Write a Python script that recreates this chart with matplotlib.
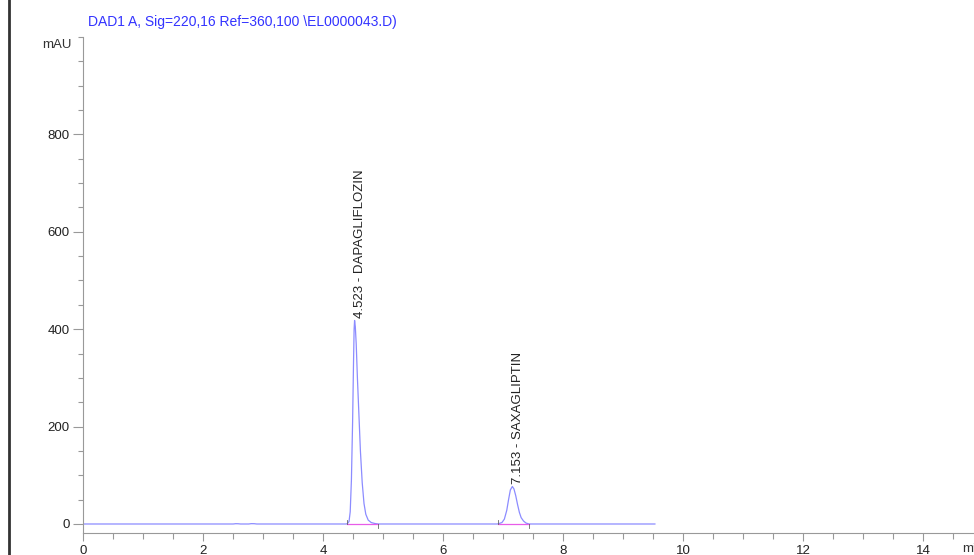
import matplotlib
matplotlib.use("Agg")
import matplotlib.pyplot as plt
from matplotlib.lines import Line2D
from matplotlib.ticker import MultipleLocator, FixedLocator

plt.rcParams['font.family'] = ['Liberation Sans', 'DejaVu Sans']

# detector trace, read point by point (min, mAU)
time_min = [0.0, 2.50, 2.54, 2.58, 2.62, 2.76, 2.80, 2.85, 2.89, 4.38,
            4.40, 4.43, 4.45, 4.47, 4.49, 4.505, 4.515, 4.523, 4.535, 4.55,
            4.57, 4.60, 4.62, 4.65, 4.68, 4.71, 4.75, 4.80, 4.86, 4.92,
            6.90, 6.92, 6.98, 7.02, 7.06, 7.09, 7.12, 7.153, 7.18, 7.21,
            7.24, 7.27, 7.30, 7.34, 7.38, 7.43, 9.53]
signal_mau = [0.0, 0.0, 0.6, 0.5, 0.0, 0.0, 0.7, 0.6, 0.0, 0.0,
              0.5, 5, 25, 90, 210, 330, 400, 418, 405, 370,
              300, 210, 150, 85, 42, 20, 8, 3, 1, 0.0,
              0.0, 0.5, 3, 10, 28, 50, 70, 77, 72, 58,
              40, 24, 13, 6, 2, 0.0, 0.0]

# integrated peaks
peak_rt = [4.523, 7.153]
peak_names = ['DAPAGLIFLOZIN', 'SAXAGLIPTIN']
peak_height = [418, 77]
base_start = [4.40, 6.92]
base_end = [4.92, 7.43]

y_labels = [0, 200, 400, 600, 800]

fig = plt.figure(figsize=(9.74, 5.55), dpi=100)
ax = fig.add_axes([83.3 / 974, 22 / 555, 1 - 83.3 / 974, (533 - 37) / 555])

ax.plot(time_min, signal_mau, color='#8c8cff', lw=0.9)

for rt, name, h, s, e in zip(peak_rt, peak_names, peak_height, base_start, base_end):
    ax.plot([s, e], [0, 0], color='#e85ce8', lw=0.9)
    ax.plot([s, s], [0, 8], color='#666666', lw=0.6)
    ax.plot([e, e], [0, -8], color='#666666', lw=0.6)
    ax.annotate(f'{rt:.3f} - {name}', xy=(rt, h), xytext=(4, 2),
                textcoords='offset points', rotation=90, ha='center', va='bottom',
                fontsize=9.5, color='#222222')

ax.set_xlim(0, 14.85)
ax.set_ylim(-18.5, 1000)
ax.xaxis.set_major_locator(MultipleLocator(2))
ax.xaxis.set_minor_locator(MultipleLocator(0.5))
ax.yaxis.set_major_locator(FixedLocator(y_labels))
ax.yaxis.set_minor_locator(MultipleLocator(50))

for side in ['top', 'right']:
    ax.spines[side].set_visible(False)
for side in ['left', 'bottom']:
    ax.spines[side].set_color('#999999')
    ax.spines[side].set_linewidth(0.8)

ax.tick_params(axis='both', which='both', color='#999999', labelcolor='#222222',
               labelsize=9.5, width=0.8, pad=3)
ax.tick_params(axis='y', which='major', length=7)
ax.tick_params(axis='y', which='minor', length=3.5)
ax.tick_params(axis='x', which='major', length=6)
ax.tick_params(axis='x', which='minor', length=4)

fig.text(88 / 974, 1 - 22 / 555, 'DAD1 A, Sig=220,16 Ref=360,100 \\EL0000043.D)',
         color='#3333ff', fontsize=10, va='center', ha='left')
fig.text(72 / 974, 1 - 45 / 555, 'mAU', color='#333333', fontsize=9.5,
         va='center', ha='right')
fig.text(962 / 974, 1 - 549 / 555, 'min', color='#333333', fontsize=9.5,
         va='center', ha='left')

# dark window edge on the far left
fig.add_artist(Line2D([8.5 / 974, 8.5 / 974], [0, 1], transform=fig.transFigure,
                      color='#333333', lw=2))

fig.savefig('out.png', dpi=100, facecolor='white')
